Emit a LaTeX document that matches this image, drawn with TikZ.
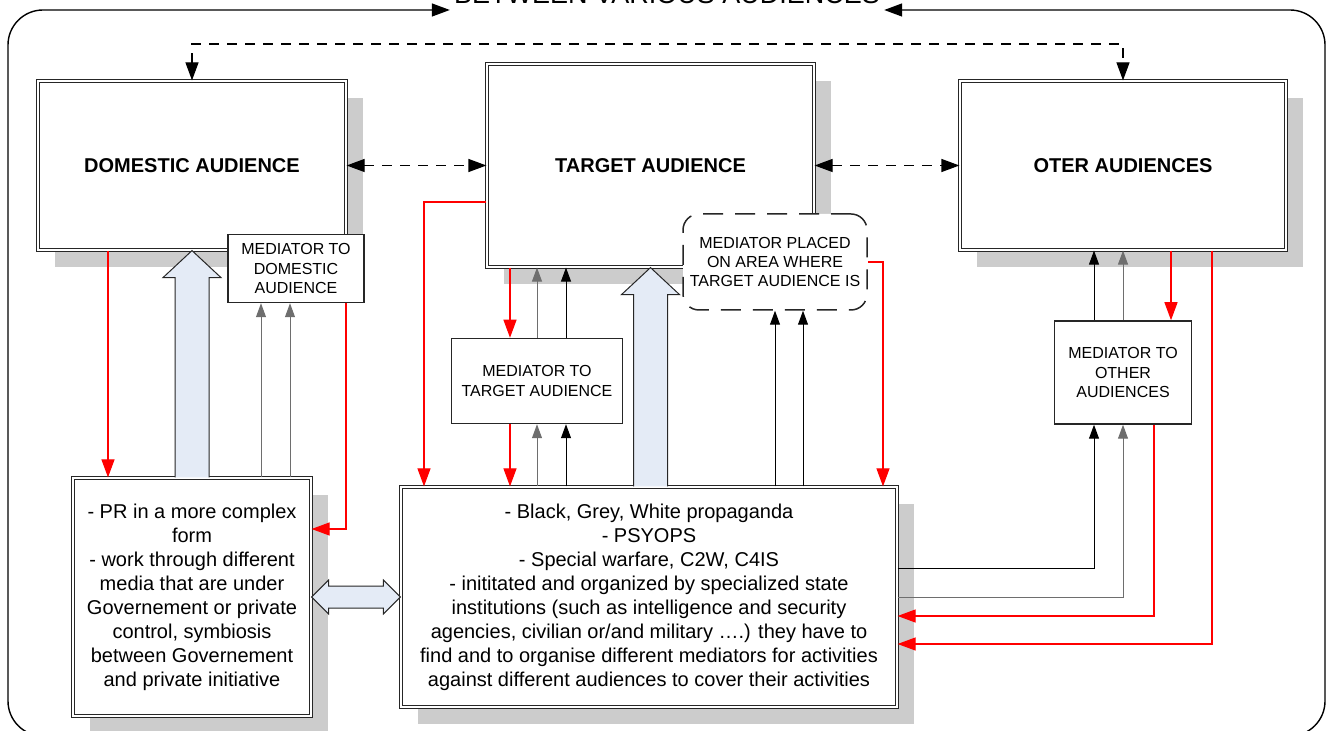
\documentclass[tikz,border=0pt]{standalone}
\usepackage{fontspec}
\setmainfont{Liberation Sans}
\usepackage{xcolor}
\definecolor{cRed}{HTML}{FF0000}
\definecolor{cShadow}{HTML}{CCCCCC}
\definecolor{cFat}{HTML}{E4EBF6}
\definecolor{cGray}{HTML}{6E6E6E}
\definecolor{cLine}{HTML}{262626}
\usetikzlibrary{positioning,arrows.meta,shadows,calc}
\tikzset{
  node-audience/.style={draw=cLine,double,double distance=1pt,line width=0.6pt,fill=white,
    minimum width=154pt,minimum height=84.5pt,inner sep=0pt,align=center,
    font=\fontsize{10}{12}\selectfont\bfseries,
    drop shadow={shadow xshift=8.5pt,shadow yshift=-8.5pt,fill=cShadow,opacity=1}},
  node-work/.style={node-audience,font=\fontsize{10}{12}\selectfont},
  node-med/.style={draw=cLine,line width=0.75pt,fill=white,inner sep=0pt,align=center,
    font=\fontsize{8}{9.6}\selectfont},
  node-med-dashed/.style={node-med,rounded corners=8pt,dash pattern=on 10pt off 6pt},
  arrow/.style={-{Triangle[length=7pt,width=5pt]},line width=0.5pt,draw=black},
  arrow-gray/.style={arrow,draw=cGray},
  arrow-red/.style={-{Triangle[length=9pt,width=6.5pt]},line width=0.6pt,draw=cRed},
  arrow-dashed/.style={{Triangle[length=9pt,width=6.5pt]}-{Triangle[length=9pt,width=6.5pt]},
    line width=0.6pt,dash pattern=on 5pt off 4pt},
  arrow-fat/.style={fill=cFat,draw=cLine,line width=0.5pt},
  frame-line/.style={{Triangle[length=9pt,width=6.5pt]}-{Triangle[length=9pt,width=6.5pt]},
    line width=0.7pt,rounded corners=17.5pt},
}
% hollow block arrow from #1 (base) up to #2 (tip)
\newcommand{\fatarrow}[2]{%
  \draw[arrow-fat] ([xshift=-8.5pt]#1) -- ([xshift=-8.5pt,yshift=-13.5pt]#2)
    -- ([xshift=-14.5pt,yshift=-13.5pt]#2) -- (#2) -- ([xshift=14.5pt,yshift=-13.5pt]#2)
    -- ([xshift=8.5pt,yshift=-13.5pt]#2) -- ([xshift=8.5pt]#1);}

\begin{document}
\begin{tikzpicture}[x=0.5pt,y=-0.5pt]
  \useasboundingbox (0,0) rectangle (1327,731);

  % outer frame and its title
  \node[font=\fontsize{13.5}{16}\selectfont,anchor=base,inner sep=2pt] (title) at (667,4) {BETWEEN VARIOUS AUDIENCES};
  \coordinate (yf) at (0,10);
  \draw[frame-line] (title.west |- yf) -- (8,10) -- (8,736) -- (1325,736) -- (1325,10) -- (title.east |- yf);

  % audiences
  \node[node-audience] (domestic) at (192,165.5) {DOMESTIC AUDIENCE};
  \node[node-audience,minimum width=163.5pt,minimum height=101.5pt] (target) at (650.5,165.5) {TARGET AUDIENCE};
  \node[node-audience,minimum width=163pt] (other) at (1123,165.5) {OTER AUDIENCES};

  % activities
  \node[node-work,minimum width=119pt,minimum height=119pt] (pr) at (192,597)
    {- PR in a more complex\\form\\- work through different\\media that are under\\Governement or private\\control, symbiosis\\between Governement\\and private initiative};
  \node[node-work,minimum width=248pt,minimum height=110pt] (main) at (649,597)
    {- Black, Grey, White propaganda\\- PSYOPS\\- Special warfare, C2W, C4IS\\- inititated and organized by specialized state\\institutions (such as intelligence and security\\agencies, civilian or/and military ….) they have to\\find and to organise different mediators for activities\\against different audiences to cover their activities};

  % mediators
  \node[node-med,minimum width=68pt,minimum height=34pt] (medDom) at (296,268.5) {MEDIATOR TO\\DOMESTIC\\AUDIENCE};
  \node[node-med,minimum width=85.5pt,minimum height=42.5pt] (medTarget) at (537,381) {MEDIATOR TO\\TARGET AUDIENCE};
  \node[node-med-dashed,minimum width=92pt,minimum height=48pt] (medPlaced) at (775,262) {MEDIATOR PLACED\\ON AREA WHERE\\TARGET AUDIENCE IS};
  \node[node-med,minimum width=68.5pt,minimum height=51.5pt] (medOther) at (1123,372.5) {MEDIATOR TO\\OTHER\\AUDIENCES};

  % links between audiences
  \coordinate (ytop) at (0,44);
  \draw[arrow-dashed] (domestic.east) -- (target.west);
  \draw[arrow-dashed] (target.east) -- (other.west);
  \draw[arrow-dashed] (domestic.north) -- (domestic.north |- ytop) -| (other.north);

  % domestic side
  \coordinate (xd1) at (108,0);
  \coordinate (xd2) at (261,0);
  \coordinate (xd3) at (290,0);
  \coordinate (xd4) at (346,0);
  \coordinate (yd4) at (0,529);
  \draw[arrow-red] (domestic.south -| xd1) -- (pr.north -| xd1);
  \draw[arrow-gray] (pr.north -| xd2) -- (medDom.south -| xd2);
  \draw[arrow-gray] (pr.north -| xd3) -- (medDom.south -| xd3);
  \draw[arrow-red] (medDom.south -| xd4) |- (pr.east |- yd4);

  % target side
  \coordinate (xt0) at (424,0);
  \coordinate (yt0) at (0,202);
  \coordinate (xt1) at (510,0);
  \coordinate (xt2) at (537,0);
  \coordinate (xt3) at (566,0);
  \coordinate (xt4) at (775,0);
  \coordinate (xt5) at (803,0);
  \coordinate (xt6) at (883,0);
  \draw[arrow-red] (target.west |- yt0) -| (main.north -| xt0);
  \draw[arrow-red] (target.south -| xt1) -- (medTarget.north -| xt1);
  \draw[arrow-gray] (medTarget.north -| xt2) -- (target.south -| xt2);
  \draw[arrow] (medTarget.north -| xt3) -- (target.south -| xt3);
  \draw[arrow-red] (medTarget.south -| xt1) -- (main.north -| xt1);
  \draw[arrow-gray] (main.north -| xt2) -- (medTarget.south -| xt2);
  \draw[arrow] (main.north -| xt3) -- (medTarget.south -| xt3);
  \draw[arrow] (main.north -| xt4) -- (medPlaced.south -| xt4);
  \draw[arrow] (main.north -| xt5) -- (medPlaced.south -| xt5);
  \draw[arrow-red] (medPlaced.east) -| (main.north -| xt6);

  % other side
  \coordinate (xo1) at (1094,0);
  \coordinate (xo2) at (1123,0);
  \coordinate (xo3) at (1171,0);
  \coordinate (xo4) at (1154,0);
  \coordinate (xo5) at (1212,0);
  \coordinate (yo1) at (0,568);
  \coordinate (yo2) at (0,597);
  \coordinate (yo3) at (0,616);
  \coordinate (yo4) at (0,644);
  \draw[arrow] (medOther.north -| xo1) -- (other.south -| xo1);
  \draw[arrow-gray] (medOther.north -| xo2) -- (other.south -| xo2);
  \draw[arrow-red] (other.south -| xo3) -- (medOther.north -| xo3);
  \draw[arrow] (main.east |- yo1) -| (medOther.south -| xo1);
  \draw[arrow-gray] (main.east |- yo2) -| (medOther.south -| xo2);
  \draw[arrow-red] (medOther.south -| xo4) |- (main.east |- yo3);
  \draw[arrow-red] (other.south -| xo5) |- (main.east |- yo4);

  % block arrows
  \fatarrow{pr.north}{domestic.south}
  \coordinate (tA) at (target.south |- main.north);
  \fatarrow{tA}{target.south}
  \draw[arrow-fat] (pr.east) -- ++(8.5pt,8.5pt) -- ++(0,-3pt) -- ([xshift=-8.5pt,yshift=5.5pt]main.west)
    -- ++(0,3pt) -- (main.west) -- ++(-8.5pt,-8.5pt) -- ++(0,3pt) -- ([xshift=8.5pt,yshift=-5.5pt]pr.east)
    -- ++(0,-3pt) -- cycle;
\end{tikzpicture}
\end{document}
